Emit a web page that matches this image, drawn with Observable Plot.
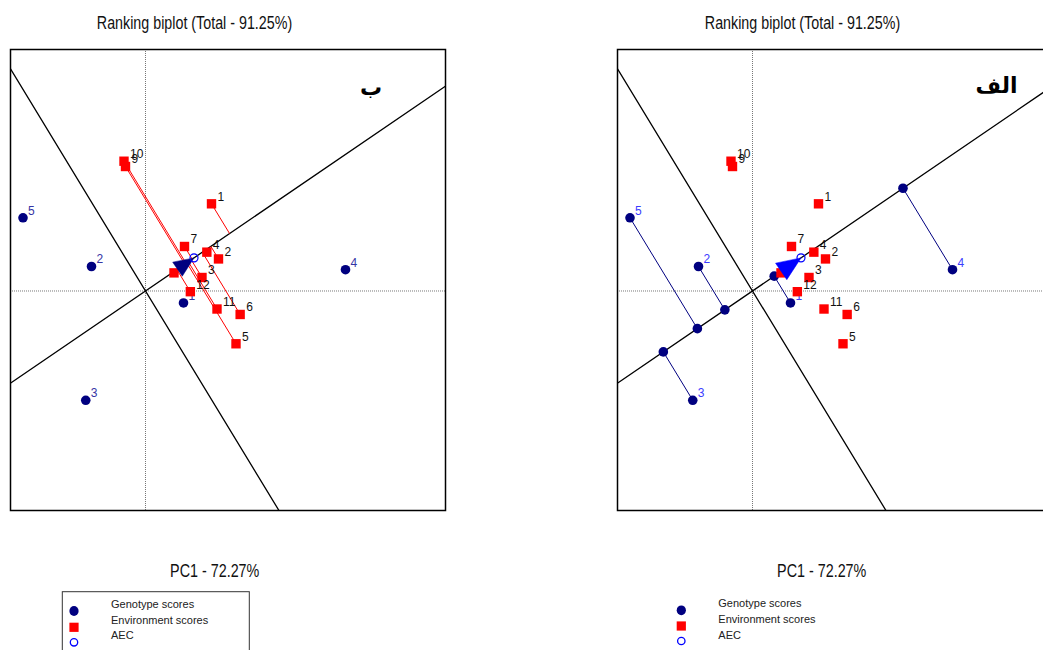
<!DOCTYPE html>
<html><head><meta charset="utf-8">
<script src="https://cdn.jsdelivr.net/npm/d3@7"></script>
<script src="https://cdn.jsdelivr.net/npm/@observablehq/plot@0.6"></script>
<style>
html,body{margin:0;padding:0;background:#fff;overflow:hidden;}
#wrap{position:relative;width:1043px;height:650px;overflow:hidden;font-family:"Liberation Sans",Arial,sans-serif;}
.panel{position:absolute;}
#overlay{position:absolute;left:0;top:0;pointer-events:none;}
</style></head><body><div id="wrap"></div>
<script>
// ---- data ----
const genotypes = ["1", "2", "3", "4", "5"];
const genoX = [0.76, -1.08, -1.195, 4.0, -2.45];
const genoY = [-0.226, 0.462, -2.062, 0.402, 1.381];
const environments = ["1", "2", "3", "4", "5", "6", "7", "8", "9", "10", "11", "12"];
const envX = [1.32, 1.46, 1.13, 1.227, 1.81, 1.893, 0.78, 0.57, -0.40, -0.43, 1.43, 0.897];
const envY = [1.645, 0.605, 0.255, 0.733, -0.996, -0.443, 0.84, 0.342, 2.349, 2.449, -0.34, -0.013];
const aec = [0.97, 0.625];
const xDomain = [-2.7, 6.0];
const yDomain = [-4.142, 4.557];
const titleText = "Ranking biplot (Total - 91.25%)";
const xLabel = "PC1 - 72.27%";
const panelLabels = ["ب", "الف"];
const legendLabels = ["Genotype scores", "Environment scores", "AEC"];

// ---- derived ----
const FW = 435, FH = 461, M = 2;
const kx = FW / (xDomain[1] - xDomain[0]);
const ky = FH / (yDomain[1] - yDomain[0]);
const len = Math.hypot(aec[0], aec[1]);
const ux = aec[0] / len, uy = aec[1] / len;
function proj(x, y) { const d = x * ux + y * uy; return [d * ux, d * uy]; }
const genos = genotypes.map((g, i) => { const p = proj(genoX[i], genoY[i]); return {name: g, x: genoX[i], y: genoY[i], px: p[0], py: p[1]}; });
const envs = environments.map((e, i) => { const p = proj(envX[i], envY[i]); return {name: e, x: envX[i], y: envY[i], px: p[0], py: p[1]}; });
const axisLine = [-20, 20].map(t => ({x: t * ux, y: t * uy}));
const perpLine = [-20, 20].map(t => ({x: -t * uy, y: t * ux}));
function arrowPoly(L, W) {
  const tx = aec[0] * kx, ty = aec[1] * ky;
  const l = Math.hypot(tx, ty), sx = tx / l, sy = ty / l;
  const bx = tx - L * sx, by = ty - L * sy;
  const nx = -sy, ny = sx;
  const pts = [[tx, ty], [bx + nx * W / 2, by + ny * W / 2], [bx - nx * W / 2, by - ny * W / 2], [tx, ty]];
  return pts.map(([a, b]) => ({x: a / kx, y: b / ky}));
}

function panel(left) {
  const marks = [
    Plot.ruleX([0], {stroke: "#777", strokeDasharray: "1,1", strokeWidth: 1}),
    Plot.ruleY([0], {stroke: "#777", strokeDasharray: "1,1", strokeWidth: 1}),
    Plot.line(axisLine, {x: "x", y: "y", stroke: "#000", strokeWidth: 1.3, clip: true}),
    Plot.line(perpLine, {x: "x", y: "y", stroke: "#000", strokeWidth: 1.3, clip: true})
  ];
  if (left) {
    marks.push(Plot.link(envs, {x1: "x", y1: "y", x2: "px", y2: "py", stroke: "#ff0000", strokeWidth: 1}));
  } else {
    marks.push(Plot.link(genos, {x1: "x", y1: "y", x2: "px", y2: "py", stroke: "#000080", strokeWidth: 1}));
    marks.push(Plot.dot(genos, {x: "px", y: "py", r: 4.8, fill: "#000080", stroke: "none"}));
  }
  marks.push(Plot.dot(genos, {x: "x", y: "y", r: 4.8, fill: "#000080", stroke: "none"}));
  marks.push(Plot.text(genos, {x: "x", y: "y", text: "name", dx: 5, dy: -7, textAnchor: "start", fill: left ? "#3535a5" : "#3c3cff", fontSize: 12}));
  marks.push(Plot.dot(envs, {x: "x", y: "y", symbol: "square", r: 5.3, fill: "#ff0000", stroke: "none"}));
  marks.push(Plot.text(envs, {x: "x", y: "y", text: "name", dx: 6, dy: -7, textAnchor: "start", fill: "#111", fontSize: 12}));
  marks.push(Plot.line(left ? arrowPoly(20, 17) : arrowPoly(24, 20), {x: "x", y: "y", fill: left ? "#000080" : "#0000ff", stroke: left ? "#000080" : "#0000ff", strokeWidth: 0.5}));
  marks.push(Plot.dot([{x: aec[0], y: aec[1]}], {x: "x", y: "y", r: 4, stroke: "#0000ff", strokeWidth: 1.2, fill: "none"}));
  marks.push(Plot.frame({stroke: "#000", strokeWidth: 1.5}));
  return Plot.plot({
    width: FW + 2 * M, height: FH + 2 * M,
    marginTop: M, marginRight: M, marginBottom: M, marginLeft: M,
    x: {domain: xDomain, axis: null},
    y: {domain: yDomain, axis: null},
    style: {background: "transparent", fontFamily: "Liberation Sans, Arial, sans-serif", overflow: "visible"},
    marks
  });
}

const wrap = document.getElementById("wrap");
const frameLefts = [10, 617];
const frameTop = 49;
[true, false].forEach((left, i) => {
  const p = panel(left);
  p.classList.add("panel");
  p.style.left = (frameLefts[i] - M) + "px";
  p.style.top = (frameTop - M) + "px";
  wrap.appendChild(p);
});

// ---- overlay texts & legend ----
const svg = d3.select(wrap).append("svg").attr("id", "overlay").attr("width", 1043).attr("height", 650)
  .style("font-family", "Liberation Sans, Arial, sans-serif");
const titleX = [194.5, 802.5];
const labelX = [214.7, 821.7];
titleX.forEach(x => svg.append("text").attr("transform", `translate(${x},29.3) scale(0.817,1)`)
  .attr("text-anchor", "middle").attr("font-size", 17.5).attr("fill", "#111").text(titleText));
labelX.forEach(x => svg.append("text").attr("transform", `translate(${x},577) scale(0.775,1)`)
  .attr("text-anchor", "middle").attr("font-size", 18.5).attr("fill", "#111").text(xLabel));
const panelLabelPos = [[371, 95], [996.5, 93]];
panelLabels.forEach((t, i) => svg.append("text").attr("x", panelLabelPos[i][0]).attr("y", panelLabelPos[i][1])
  .attr("text-anchor", "middle").attr("font-size", 22).attr("font-weight", "bold")
  .attr("font-family", "DejaVu Sans, Noto Sans, sans-serif").attr("fill", "#000").text(t));

// legend box (left only)
svg.append("rect").attr("x", 62.3).attr("y", 591.7).attr("width", 187).attr("height", 80)
  .attr("fill", "none").attr("stroke", "#333").attr("stroke-width", 1);
const legends = [
  {mx: 74, tx: 111, my: [611, 627.3, 642.3], ty: [607.7, 624, 639.3]},
  {mx: 681.3, tx: 718.3, my: [610.3, 626, 641], ty: [606.7, 623, 639]}
];
legends.forEach(L => {
  svg.append("ellipse").attr("cx", L.mx).attr("cy", L.my[0]).attr("rx", 4.6).attr("ry", 4.9).attr("fill", "#000080");
  svg.append("rect").attr("x", L.mx - 4.6).attr("y", L.my[1] - 4.6).attr("width", 9.2).attr("height", 9.2).attr("fill", "#ff0000");
  svg.append("circle").attr("cx", L.mx).attr("cy", L.my[2]).attr("r", 3.7).attr("fill", "none").attr("stroke", "#0000ff").attr("stroke-width", 1.3);
  legendLabels.forEach((t, i) => svg.append("text").attr("x", L.tx).attr("y", L.ty[i]).attr("font-size", 11).attr("fill", "#222").text(t));
});
</script></body></html>
